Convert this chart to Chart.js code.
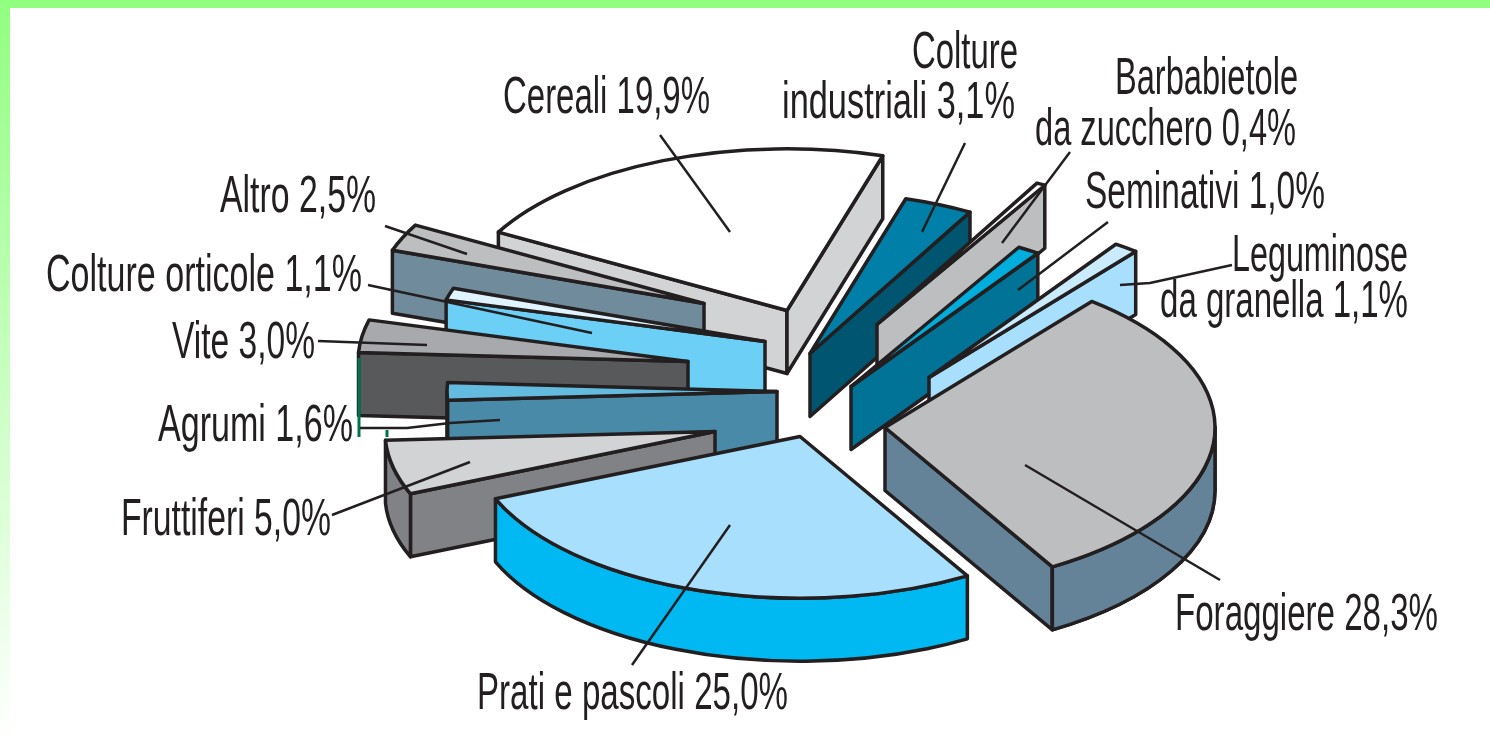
<!DOCTYPE html>
<html><head><meta charset="utf-8">
<style>
html,body{margin:0;padding:0;background:#fff;width:1490px;height:743px;overflow:hidden}
#top{position:absolute;left:0;top:0;width:1490px;height:8px;background:#90FF80}
#left{position:absolute;left:0;top:0;width:10px;height:743px;background:linear-gradient(#90FF80,#fff)}
canvas{position:absolute;left:0;top:0}
</style>
<script src="https://cdn.jsdelivr.net/npm/chart.js@4/dist/chart.umd.min.js"></script>
</head><body>
<div id="top"></div><div id="left"></div>
<canvas id="c" width="1490" height="743"></canvas>
<script>
// Data (clockwise, starting from Cereali)
const categories = ["Cereali","Colture industriali","Barbabietole da zucchero","Seminativi","Leguminose da granella","Foraggiere","Prati e pascoli","Fruttiferi","Agrumi","Vite","Colture orticole","Altro"];
const values = [19.9,3.1,0.4,1.0,1.1,28.3,25.0,5.0,1.6,3.0,1.1,2.5];

// Styles
const topColors  = ["#FFFFFF","#0080A8","#FFFFFF","#00AEDE","#C9EBFC","#BCBEC0","#A8DFFC","#D1D3D4","#64BBE0","#A7A9AC","#E0F4FF","#BCBEC0"];
const sideColors = ["#D1D3D4","#005670","#BCBEC0","#007396","#A8DFFC","#648399","#00B9F2","#808285","#488AA8","#58595B","#6BCFF6","#708B9B"];
const explodeX = [42,65,132,106,184,140,55,-30,32,-57,20,-41];
const explodeY = [-61,-18,-47,15,6,56,65,60,20,-10,-30,-68];
const paintOrder = [0,11,10,9,8,7,1,2,3,4,5,6];
const squash = 0.49, depth = 63, ink = "#231F20";

// Label layout: [text lines, left, baseline, right]
const labelLines = [
  ["Cereali 19,9%",503,113,710],
  ["Colture",912,68,1018],
  ["industriali 3,1%",782,118,1015],
  ["Barbabietole",1115,94,1298],
  ["da zucchero 0,4%",1035,145,1296],
  ["Seminativi 1,0%",1085,208,1325],
  ["Leguminose",1232,271,1408],
  ["da granella 1,1%",1160,317,1408],
  ["Foraggiere 28,3%",1175,630,1438],
  ["Prati e pascoli 25,0%",477,709,788],
  ["Fruttiferi 5,0%",121,535,331],
  ["Agrumi 1,6%",158,441,353],
  ["Vite 3,0%",172,358,315],
  ["Colture orticole 1,1%",46,291,362],
  ["Altro 2,5%",220,212,376]
];
const leaders = [
  [[660,135],[730,232]],
  [[965,143],[922,232]],
  [[1070,152],[1002,243]],
  [[1108,222],[1018,290]],
  [[1232,265],[1150,283],[1120,285]],
  [[1025,465],[1220,580]],
  [[730,525],[632,665]],
  [[470,462],[332,515]],
  [[360,428],[407,428],[450,423],[500,420]],
  [[318,341],[427,345]],
  [[368,285],[592,333]],
  [[385,226],[467,254]]
];
const accentLines = [[[359,358],[359,437]],[[387,430],[387,437]]];

function path(ctx,pts){ctx.beginPath();pts.forEach((p,i)=>i?ctx.lineTo(p[0],p[1]):ctx.moveTo(p[0],p[1]));}

const pie3d = {
  id:"pie3d",
  beforeDatasetDraw(){ return false; },
  afterDatasetsDraw(chart){
    const ctx = chart.ctx, arcs = chart.getDatasetMeta(0).data;
    ctx.save();
    ctx.lineJoin="round"; ctx.lineCap="butt"; ctx.lineWidth=3.5; ctx.strokeStyle=ink;
    paintOrder.forEach(i=>{
      const a = arcs[i].getProps(["x","y","startAngle","endAngle","outerRadius"]);
      const cx=a.x+explodeX[i], cy=a.y+explodeY[i], R=a.outerRadius, s=a.startAngle, e=a.endAngle, b=R*squash;
      const at=t=>[cx+R*Math.cos(t),cy+b*Math.sin(t)];
      const S=at(s),E=at(e),T=[cx,cy];
      ctx.fillStyle=sideColors[i];
      const wall=(P,Q)=>{path(ctx,[P,Q,[Q[0],Q[1]+depth],[P[0],P[1]+depth]]);ctx.closePath();ctx.fill();ctx.stroke();};
      if(Math.cos(s)<0) wall(T,S);
      if(Math.cos(e)>0) wall(T,E);
      // outer rim: the part of the arc whose normal faces the viewer
      const norm=t=>{t%=2*Math.PI;return t<0?t+2*Math.PI:t;};
      [[0,Math.PI],[2*Math.PI,3*Math.PI]].forEach(([lo,hi])=>{
        let s0=norm(s),e0=s0+(e-s);
        for(const k of [0,-2*Math.PI]){
          const u=Math.max(s0+k,lo),v=Math.min(e0+k,hi);
          if(v>u){
            ctx.beginPath();ctx.ellipse(cx,cy,R,b,0,u,v);
            ctx.ellipse(cx,cy+depth,R,b,0,v,u,true);ctx.closePath();ctx.fill();ctx.stroke();
          }
        }
      });
      ctx.fillStyle=topColors[i];
      ctx.beginPath();ctx.moveTo(cx,cy);ctx.ellipse(cx,cy,R,b,0,s,e);ctx.closePath();ctx.fill();ctx.stroke();
    });
    ctx.strokeStyle="#00734D";ctx.lineWidth=3;
    accentLines.forEach(l=>{path(ctx,l);ctx.stroke();});
    ctx.strokeStyle=ink;ctx.lineWidth=2.5;
    leaders.forEach(l=>{path(ctx,l);ctx.stroke();});
    ctx.fillStyle=ink;ctx.font='52px "Liberation Sans"';ctx.textBaseline="alphabetic";
    labelLines.forEach(([t,x0,y,x1])=>{
      const m=ctx.measureText(t).width;
      ctx.save();ctx.translate(x0,y);ctx.scale((x1-x0)/m,1);ctx.fillText(t,0,0);ctx.restore();
    });
    ctx.restore();
  }
};

new Chart(document.getElementById("c"),{
  type:"pie",
  data:{labels:categories,datasets:[{data:values,backgroundColor:topColors,borderColor:ink,borderWidth:3}]},
  options:{responsive:false,animation:false,rotation:-61,radius:330,
    layout:{padding:0},plugins:{legend:{display:false},tooltip:{enabled:false}}},
  plugins:[pie3d]
});
</script>
</body></html>
